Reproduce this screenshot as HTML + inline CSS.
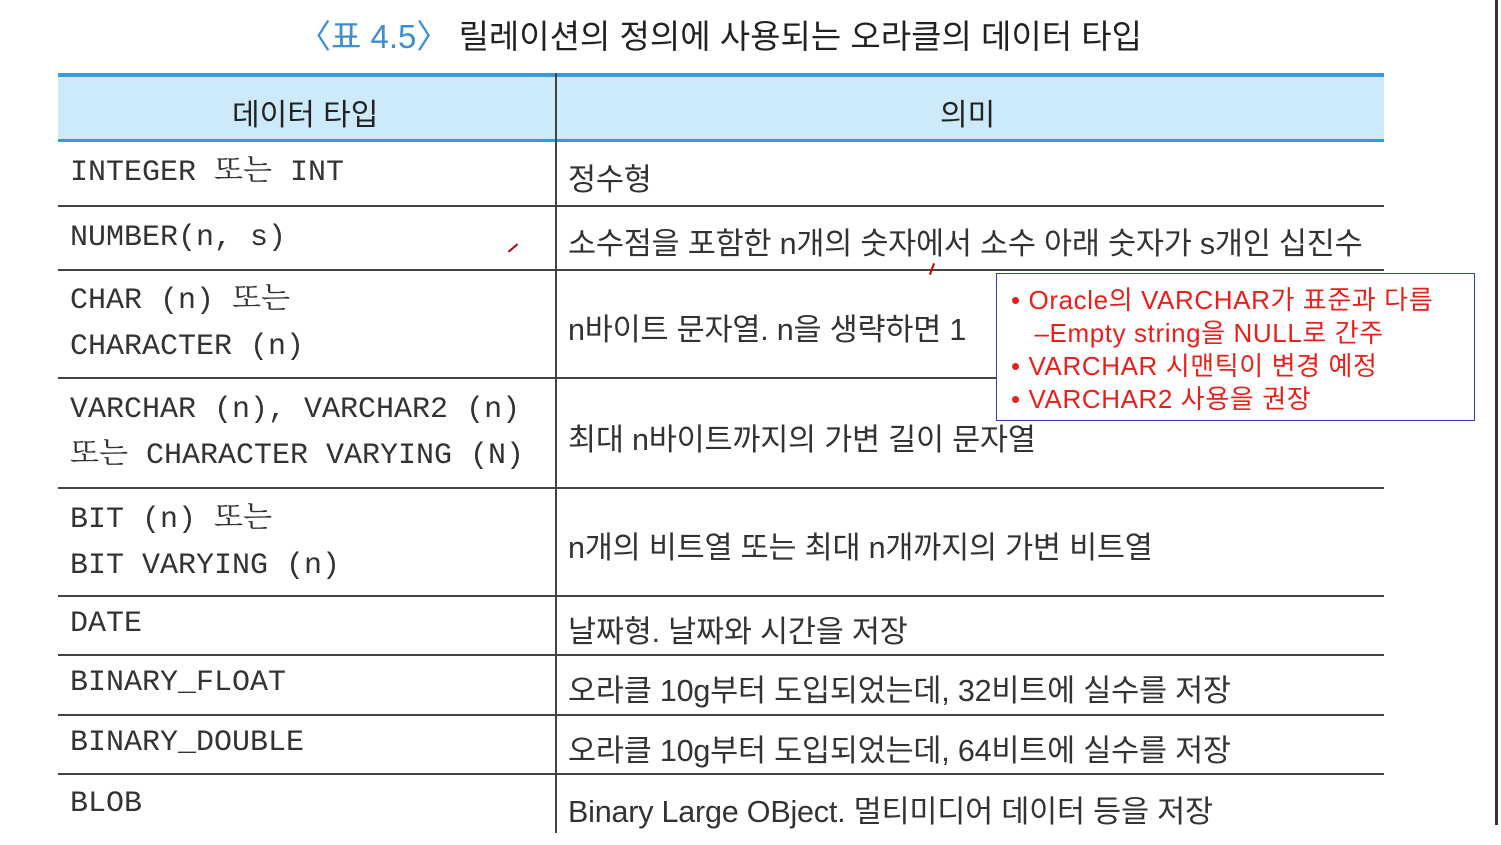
<!DOCTYPE html>
<html><head><meta charset="utf-8">
<style>
html,body{margin:0;padding:0;background:#fff;}
body{width:1501px;height:825px;position:relative;overflow:hidden;font-family:"Liberation Sans","Noto Sans CJK KR",sans-serif;}
.abs{position:absolute;}
#title{left:0;width:1440px;top:10px;text-align:center;font-size:33px;color:#222;white-space:nowrap;}
#title .num{color:#3d8fcf;}
#tbl{left:58px;top:73px;width:1326px;}
.hdr{position:absolute;left:0;top:0;width:1326px;height:69px;background:#cdeafa;border-top:4px solid #3d9ad8;border-bottom:3px solid #3d9ad8;box-sizing:border-box;}
.hcell{position:absolute;top:13px;font-size:30px;color:#222;}
.vline{position:absolute;left:497px;top:0;width:2px;height:760px;background:#444;}
.row{position:absolute;left:0;width:1326px;border-bottom:2px solid #444;box-sizing:border-box;}
.c1{position:absolute;left:12px;font-family:"Liberation Mono","Noto Serif CJK SC","Noto Sans CJK KR",monospace;font-size:30px;color:#333;line-height:46px;white-space:nowrap;}
.c2{position:absolute;left:510px;font-size:30.5px;color:#333;white-space:nowrap;letter-spacing:-0.2px;}
#note{left:996px;top:273px;width:479px;height:148px;border:1.5px solid #3344aa;background:#fff;box-sizing:border-box;color:#e8201c;font-size:26px;letter-spacing:0.6px;line-height:33px;padding:10px 0 0 14px;white-space:nowrap;}
#edge{left:1495px;top:0;width:3px;height:825px;background:#333;}
</style></head><body>
<div class="abs" id="title"><span class="num">〈표 4.5〉</span> 릴레이션의 정의에 사용되는 오라클의 데이터 타입</div>
<div class="abs" id="tbl">
 <div class="hdr">
  <div class="hcell" style="left:174px">데이터 타입</div>
  <div class="hcell" style="left:882px">의미</div>
 </div>
 <div class="row" style="top:69px;height:65px"><div class="c1" style="top:8px">INTEGER 또는 INT</div><div class="c2" style="top:13px">정수형</div></div>
 <div class="row" style="top:134px;height:64px"><div class="c1" style="top:8px">NUMBER(n, s)</div><div class="c2" style="top:12px">소수점을 포함한 n개의 숫자에서 소수 아래 숫자가 s개인 십진수</div></div>
 <div class="row" style="top:198px;height:108px"><div class="c1" style="top:7px">CHAR (n)  또는<br>CHARACTER (n)</div><div class="c2" style="top:34px">n바이트 문자열. n을 생략하면 1</div></div>
 <div class="row" style="top:306px;height:110px"><div class="c1" style="top:8px">VARCHAR (n), VARCHAR2 (n)<br>또는 CHARACTER VARYING (N)</div><div class="c2" style="top:36px">최대 n바이트까지의 가변 길이 문자열</div></div>
 <div class="row" style="top:416px;height:108px"><div class="c1" style="top:8px">BIT (n)  또는<br>BIT VARYING (n)</div><div class="c2" style="top:34px">n개의 비트열 또는 최대 n개까지의 가변 비트열</div></div>
 <div class="row" style="top:524px;height:59px"><div class="c1" style="top:4px">DATE</div><div class="c2" style="top:10px">날짜형. 날짜와 시간을 저장</div></div>
 <div class="row" style="top:583px;height:60px"><div class="c1" style="top:4px">BINARY_FLOAT</div><div class="c2" style="top:10px">오라클 10g부터 도입되었는데, 32비트에 실수를 저장</div></div>
 <div class="row" style="top:643px;height:59px"><div class="c1" style="top:4px">BINARY_DOUBLE</div><div class="c2" style="top:10px">오라클 10g부터 도입되었는데, 64비트에 실수를 저장</div></div>
 <div class="row" style="top:702px;height:70px;border-bottom:none"><div class="c1" style="top:6px">BLOB</div><div class="c2" style="top:12px">Binary Large OBject. 멀티미디어 데이터 등을 저장</div></div>
 <div class="vline"></div>
</div>
<div class="abs" style="left:507px;top:247px;width:12px;height:2px;background:#b00;transform:rotate(-40deg)"></div>
<div class="abs" style="left:926px;top:268px;width:12px;height:2px;background:#b00;transform:rotate(-70deg)"></div>
<div class="abs" id="note">• Oracle의 VARCHAR가 표준과 다름<br>&nbsp;&nbsp;&nbsp;–Empty string을 NULL로 간주<br>• VARCHAR 시맨틱이 변경 예정<br>• VARCHAR2 사용을 권장</div>
<div class="abs" id="edge"></div>
</body></html>
